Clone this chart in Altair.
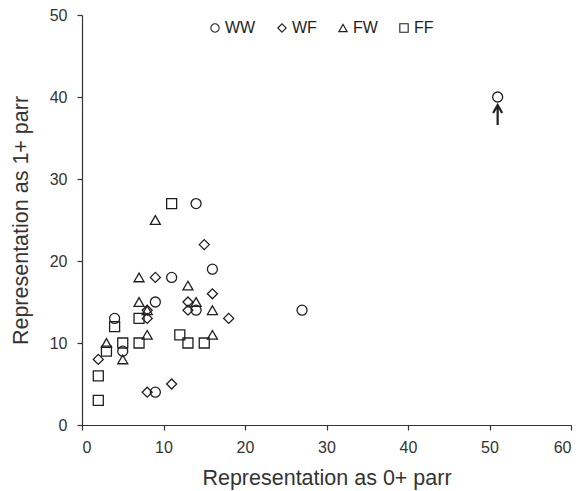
import altair as alt
import pandas as pd

groups = ["WW", "WF", "FW", "FF"]

WW_x = [51, 14, 16, 11, 9, 4, 14, 27, 5, 9]
WW_y = [40, 27, 19, 18, 15, 13, 14, 14, 9, 4]
WF_x = [15, 9, 16, 13, 8, 8, 13, 18, 2, 8, 11]
WF_y = [22, 18, 16, 15, 14, 13, 14, 13, 8, 4, 5]
FW_x = [9, 7, 13, 7, 14, 16, 8, 8, 16, 3, 5]
FW_y = [25, 18, 17, 15, 15, 14, 14, 11, 11, 10, 8]
FF_x = [11, 4, 7, 5, 3, 7, 12, 13, 15, 2, 2]
FF_y = [27, 12, 13, 10, 9, 10, 11, 10, 10, 6, 3]

arrow_x = [51]
arrow_y = [37.8]

rows = []
for g, xs, ys in [("WW", WW_x, WW_y), ("WF", WF_x, WF_y), ("FW", FW_x, FW_y), ("FF", FF_x, FF_y)]:
    for a, b in zip(xs, ys):
        rows.append({"x": a, "y": b, "group": g})
df = pd.DataFrame(rows)
arrow_df = pd.DataFrame({"x": arrow_x, "y": arrow_y})

FONT = "Liberation Sans"
INK = "#231f20"

xscale = alt.Scale(domain=[0, 60], nice=False, zero=True)
yscale = alt.Scale(domain=[0, 50], nice=False, zero=True)

points = alt.Chart(df).mark_point(
    filled=False, size=100, strokeWidth=1.3, color=INK, opacity=1
).encode(
    x=alt.X("x:Q", scale=xscale,
            axis=alt.Axis(values=[0, 10, 20, 30, 40, 50, 60], title="Representation as 0+ parr",
                          grid=False, tickSize=5, labelPadding=9, titlePadding=12)),
    y=alt.Y("y:Q", scale=yscale,
            axis=alt.Axis(values=[0, 10, 20, 30, 40, 50], title="Representation as 1+ parr",
                          grid=False, tickSize=5, labelPadding=10, titlePadding=17)),
    shape=alt.Shape("group:N",
                    scale=alt.Scale(domain=groups, range=["circle", "diamond", "triangle-up", "square"]),
                    legend=alt.Legend(orient="none", legendX=125, legendY=5, direction="horizontal",
                                      columns=4, title=None, symbolSize=70, symbolStrokeWidth=1.1,
                                      symbolStrokeColor=INK, symbolFillColor="transparent",
                                      labelFontSize=16, labelFont=FONT, labelColor=INK,
                                      columnPadding=18, labelOffset=2)),
)

arrow = alt.Chart(arrow_df).mark_point(
    shape="M0,-1L0,1M-0.45,-0.2L0,-1L0.45,-0.2",
    filled=False, size=400, strokeWidth=2.2, color=INK, opacity=1
).encode(
    x=alt.X("x:Q", scale=xscale),
    y=alt.Y("y:Q", scale=yscale),
)

chart = alt.layer(points, arrow).properties(
    width=489, height=410, autosize="none",
    padding={"left": 74, "top": 7, "right": 5, "bottom": 66},
).configure_view(stroke=None).configure_axis(
    domainColor="#333333", tickColor="#333333", labelColor="#333333", titleColor="#333333",
    labelFont=FONT, titleFont=FONT, labelFontSize=16, titleFontSize=21.5,
    titleFontWeight="normal", domainWidth=1.2, tickWidth=1.2,
)

chart.save("out.html", embed_options={"renderer": "svg", "actions": False})
